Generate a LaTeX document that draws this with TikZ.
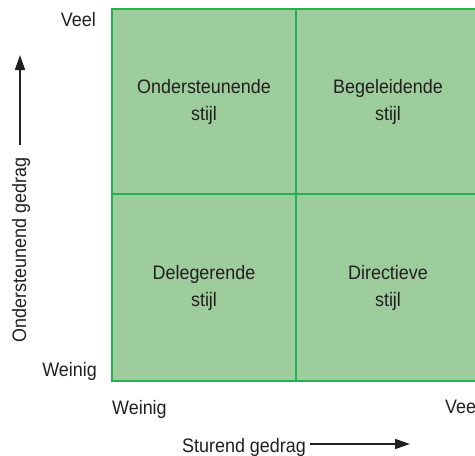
\documentclass[tikz,border=0pt]{standalone}
\usepackage{fontspec}
\setmainfont{Liberation Sans}[FakeStretch=0.92]
\usetikzlibrary{arrows.meta}
\definecolor{cellfill}{RGB}{157,204,157}
\definecolor{gridline}{RGB}{38,176,80}
\definecolor{ink}{RGB}{35,31,32}
\tikzset{
  celltext/.style={align=center, inner sep=0pt, text=ink},
  axislabel/.style={inner sep=0pt, text=ink},
  axisarrow/.style={draw=ink, line width=1.8pt, -{Triangle[length=15pt,width=10pt]}},
  gridstroke/.style={draw=gridline, line width=1.3pt}
}
\begin{document}
\begin{tikzpicture}[x=1pt,y=-1pt,font=\fontsize{19.5}{27}\selectfont]
\useasboundingbox (0,0) rectangle (475,456);
\clip (0,0) rectangle (475,456);
% grid
\fill[cellfill] (112,9) rectangle (480,381);
\draw[gridstroke] (112,9) rectangle (480,381);
\draw[gridstroke] (296,9) -- (296,381);
\draw[gridstroke] (112,194) -- (480,194);
% cell texts
\node[celltext] (os) at (204,101.5) {Ondersteunende\\stijl};
\node[celltext] (bs) at (388,101.5) {Begeleidende\\stijl};
\node[celltext] (ds) at (204,288) {Delegerende\\stijl};
\node[celltext] (dir) at (388,288) {Directieve\\stijl};
% axis tick labels
\node[axislabel, anchor=base east] (veeltop) at (96,26) {Veel};
\node[axislabel, anchor=base east] (weinigleft) at (97,376) {Weinig};
\node[axislabel, anchor=base west] (weinigbot) at (112,414) {Weinig};
\node[axislabel, anchor=base west] (veelright) at (445,413) {Veel};
% axis titles
\node[axislabel, rotate=90] (ytitle) at (21,250) {Ondersteunend gedrag};
\node[axislabel, anchor=base west] (xtitle) at (182,452) {Sturend gedrag};
% arrows
\coordinate (vs) at (20,145);
\coordinate (ve) at (20,55);
\draw[axisarrow] (vs) -- (ve);
\coordinate (hs) at (310,444);
\coordinate (he) at (410,444);
\draw[axisarrow] (hs) -- (he);
\end{tikzpicture}
\end{document}
